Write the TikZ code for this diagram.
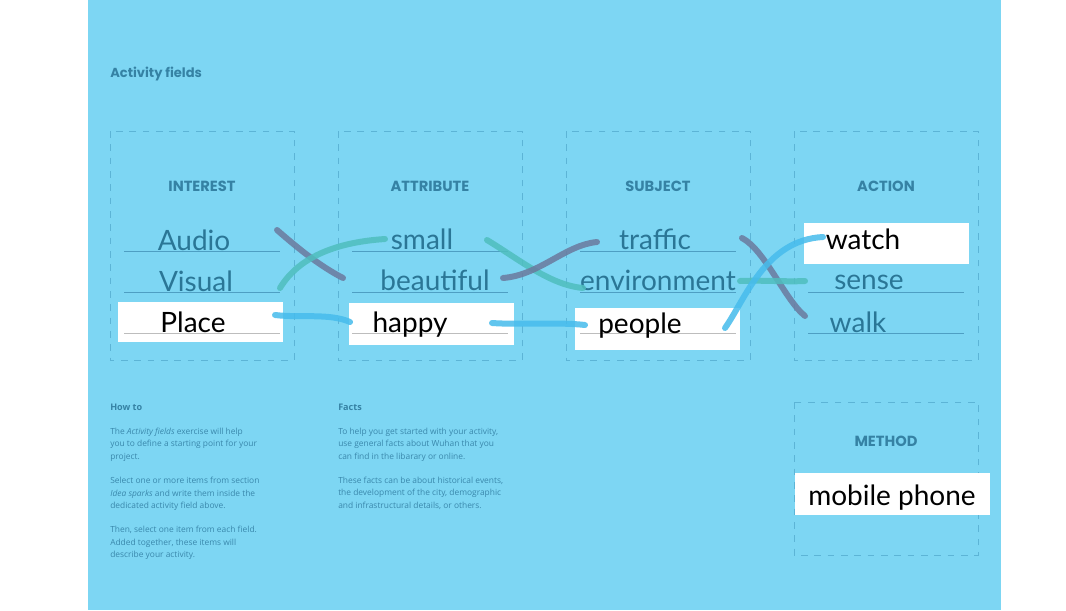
\documentclass[tikz,border=0pt]{standalone}
\usepackage{fontspec}
\usepackage{xcolor}
\usetikzlibrary{calc,positioning}
\setmainfont{Open Sans}
\newfontfamily\headfont{Poppins}
\newfontfamily\handfont{Lato}
\definecolor{SkyBase}{HTML}{7DD6F3}
\definecolor{DashEdge}{HTML}{5CB4D6}
\definecolor{RuleBlue}{HTML}{4E9FC3}
\definecolor{InkTeal}{HTML}{2A7696}
\definecolor{HeadBlue}{HTML}{3582A4}
\definecolor{BodyBlue}{HTML}{3A88AC}
\definecolor{StrokePlum}{HTML}{6B7A9E}
\definecolor{StrokeTeal}{HTML}{4FBEBE}
\definecolor{StrokeSky}{HTML}{46BCEC}
\definecolor{PaperGrey}{HTML}{BDBDBD}
\tikzset{
    fieldframe/.style={draw=DashEdge, line width=0.6pt, dash pattern=on 5pt off 5pt},
    fieldhead/.style={text=HeadBlue, inner sep=0pt, font=\headfont\bfseries\fontsize{11}{13}\selectfont},
    ruleline/.style={draw=RuleBlue, line width=0.6pt},
    greyline/.style={draw=PaperGrey, line width=0.6pt},
    pickcard/.style={fill=white},
    wordink/.style={anchor=base, inner sep=0pt, text=InkTeal, font=\handfont\fontsize{21}{24}\selectfont},
    wordpick/.style={wordink, text=black},
    notehead/.style={anchor=west, inner sep=0pt, text=HeadBlue, font=\bfseries\fontsize{6.8}{8}\selectfont},
    notebody/.style={anchor=north west, inner sep=0pt, align=left, text=BodyBlue, font=\fontsize{6.3}{9.2}\selectfont},
    brush/.style={line width=4.5pt, line cap=round, opacity=0.85}
}

\begin{document}
\begin{tikzpicture}[x=0.75pt, y=-0.75pt]
    \fill[white] (0,0) rectangle (1066,610);
    \fill[SkyBase] (88,0) rectangle (1001,610);

    \node[anchor=west, inner sep=0pt, text=HeadBlue, font=\headfont\bfseries\fontsize{9.8}{11}\selectfont] (title) at (110,74) {Activity fields};

    % the four activity fields
    \foreach \x/\name/\label in {110/interest/INTEREST, 338/attribute/ATTRIBUTE, 566/subject/SUBJECT, 794/action/ACTION} {
        \draw[fieldframe] (\x,131) rectangle ++(184,229);
        \node[fieldhead] (\name) at (\x+92,186) {\label};
        \foreach \y in {251,292,333}
            \draw[ruleline] (\x+14,\y) -- ++(156,0);
    }
    \draw[fieldframe] (794,402) rectangle (978,555);
    \node[fieldhead] (method) at (886,441) {METHOD};

    % picked items
    \fill[pickcard] (118,302) rectangle (283,342);
    \fill[pickcard] (349,303) rectangle (514,345);
    \fill[pickcard] (575,308) rectangle (740,350);
    \fill[pickcard] (804,223) rectangle (969,264);
    \fill[pickcard] (795,473) rectangle (990,515);
    \draw[greyline] (124,333) -- (280,333);
    \draw[greyline] (352,333) -- (508,333);
    \draw[greyline] (580,333) -- (736,333);

    \node[wordink] (audio) at (194,250) {Audio};
    \node[wordink] (visual) at (196,291) {Visual};
    \node[wordpick] (place) at (193,332) {Place};
    \node[wordink] (small) at (422,249) {small};
    \node[wordink] (beautiful) at (435,290) {beautiful};
    \node[wordpick] (happy) at (410,332) {happy};
    \node[wordink] (traffic) at (655,249) {traffic};
    \node[wordink] (environment) at (658,290) {environment};
    \node[wordpick] (people) at (640,333) {people};
    \node[wordpick] (watch) at (863,249) {watch};
    \node[wordink] (sense) at (869,289) {sense};
    \node[wordink] (walk) at (858,332) {walk};
    \node[wordpick] (mobile) at (892,505) {mobile phone};

    % brush strokes between the fields
    \coordinate (audio-out) at (277,230);
    \coordinate (beautiful-in) at (343,278);
    \coordinate (visual-out) at (280,288);
    \coordinate (small-in) at (385,239);
    \coordinate (place-out) at (275,315);
    \coordinate (happy-in) at (350,322);
    \coordinate (small-out) at (487,240);
    \coordinate (environment-in) at (583,288);
    \coordinate (beautiful-out) at (503,278);
    \coordinate (traffic-in) at (597,242);
    \coordinate (happy-out) at (492,323);
    \coordinate (people-in) at (585,325);
    \coordinate (traffic-out) at (742,238);
    \coordinate (walk-in) at (805,316);
    \coordinate (environment-out) at (740,281);
    \coordinate (sense-in) at (805,281);
    \coordinate (people-out) at (725,328);
    \coordinate (watch-in) at (823,237);

    \draw[brush, StrokePlum] (audio-out) .. controls (300,250) and (320,266) .. (beautiful-in);
    \draw[brush, StrokeTeal] (visual-out) .. controls (300,255) and (340,242) .. (small-in);
    \draw[brush, StrokeSky] (place-out) .. controls (300,318) and (330,313) .. (happy-in);
    \draw[brush, StrokeTeal] (small-out) .. controls (520,260) and (550,285) .. (environment-in);
    \draw[brush, StrokePlum] (beautiful-out) .. controls (540,275) and (565,245) .. (traffic-in);
    \draw[brush, StrokeSky] (happy-out) .. controls (520,325) and (560,322) .. (people-in);
    \draw[brush, StrokePlum] (traffic-out) .. controls (765,250) and (785,300) .. (walk-in);
    \draw[brush, StrokeTeal] (environment-out) .. controls (765,280) and (785,282) .. (sense-in);
    \draw[brush, StrokeSky] (people-out) .. controls (745,300) and (765,240) .. (watch-in);

    % notes
    \node[notehead] (howto) at (110,407) {How to};
    \node[notebody] (howtotext) at (110,428) {The \textit{Activity fields} exercise will help\\
        you to define a starting point for your\\
        project.\\[9.2pt]
        Select one or more items from section\\
        \textit{Idea sparks} and write them inside the\\
        dedicated activity field above.\\[9.2pt]
        Then, select one item from each field.\\
        Added together, these items will\\
        describe your activity.};
    \node[notehead] (facts) at (338,407) {Facts};
    \node[notebody] (factstext) at (338,428) {To help you get started with your activity,\\
        use general facts about Wuhan that you\\
        can find in the libarary or online.\\[9.2pt]
        These facts can be about historical events,\\
        the development of the city, demographic\\
        and infrastructural details, or others.};
\end{tikzpicture}
\end{document}
